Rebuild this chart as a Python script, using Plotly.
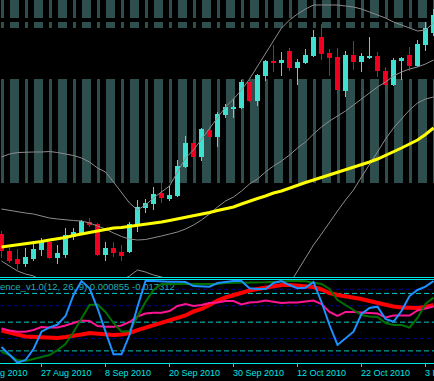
import plotly.graph_objects as go

# ---------------- data (daily EURUSD-like candles, 20 Aug 2010 .. 4 Nov 2010) ----------------
idx = list(range(55))

open_ = [1.3130, 1.3045, 1.3005, 1.2980, 1.3005, 1.3050, 1.3090, 1.3010, 1.3025, 1.3115,
         1.3135, 1.3190, 1.3180, 1.3025, 1.3060, 1.3040, 1.3040, 1.3175, 1.3260, 1.3280,
         1.3335, 1.3305, 1.3320, 1.3465, 1.3585, 1.3515, 1.3650, 1.3615, 1.3725, 1.3755,
         1.3760, 1.3890, 1.3795, 1.3920, 1.3995, 1.3985, 1.4045, 1.3960, 1.3985, 1.4020,
         1.4115, 1.4035, 1.4015, 1.3845, 1.4025, 1.3990, 1.4010, 1.4020, 1.3945, 1.3875,
         1.3995, 1.4025, 1.3970, 1.4075, 1.4135]
high = [1.3145, 1.3060, 1.3055, 1.3060, 1.3090, 1.3110, 1.3095, 1.3075, 1.3160, 1.3160,
        1.3200, 1.3210, 1.3185, 1.3090, 1.3090, 1.3075, 1.3190, 1.3300, 1.3305, 1.3365,
        1.3400, 1.3370, 1.3500, 1.3620, 1.3600, 1.3660, 1.3670, 1.3740, 1.3780, 1.3805,
        1.3900, 1.3900, 1.3930, 1.4000, 1.4075, 1.4040, 1.4060, 1.4005, 1.4055, 1.4150,
        1.4180, 1.4055, 1.4060, 1.4045, 1.4095, 1.4035, 1.4115, 1.4040, 1.3965, 1.4010,
        1.4015, 1.4065, 1.4100, 1.4190, 1.4255]
low = [1.3010, 1.2985, 1.2950, 1.2965, 1.2995, 1.3020, 1.3005, 1.2980, 1.3010, 1.3100,
       1.3125, 1.3165, 1.3020, 1.2995, 1.3015, 1.2995, 1.3035, 1.3140, 1.3235, 1.3250,
       1.3285, 1.3295, 1.3315, 1.3460, 1.3510, 1.3495, 1.3600, 1.3565, 1.3710, 1.3710,
       1.3755, 1.3790, 1.3770, 1.3895, 1.3940, 1.3920, 1.3945, 1.3875, 1.3980, 1.4015,
       1.4000, 1.3920, 1.3825, 1.3815, 1.3950, 1.3940, 1.4005, 1.3915, 1.3840, 1.3870,
       1.3900, 1.3945, 1.3965, 1.4045, 1.4120]
close = [1.3045, 1.2995, 1.2980, 1.3015, 1.3055, 1.3090, 1.3010, 1.3035, 1.3125, 1.3140,
         1.3195, 1.3175, 1.3025, 1.3060, 1.3035, 1.3020, 1.3180, 1.3265, 1.3285, 1.3330,
         1.3310, 1.3325, 1.3470, 1.3585, 1.3515, 1.3655, 1.3615, 1.3730, 1.3765, 1.3765,
         1.3890, 1.3795, 1.3925, 1.3995, 1.3985, 1.4000, 1.3960, 1.3990, 1.4025, 1.4115,
         1.4030, 1.4010, 1.3850, 1.4025, 1.3990, 1.4020, 1.4020, 1.3945, 1.3875, 1.4000,
         1.4010, 1.3970, 1.4080, 1.4160, 1.4225]

bb_upper = [1.3515, 1.3530, 1.35375, 1.3540, 1.3540, 1.3540, 1.35425, 1.35375, 1.3530, 1.35225,
            1.3510, 1.3490, 1.3460, 1.3440, 1.3390, 1.3335, 1.3285, 1.3250, 1.3275, 1.3310,
            1.3340, 1.3370, 1.3440, 1.3510, 1.3550, 1.3605, 1.3660, 1.3715, 1.3765, 1.3805,
            1.3850, 1.3905, 1.3970, 1.4035, 1.4100, 1.4160, 1.4200, 1.4230, 1.4255, 1.4275,
            1.4275, 1.4275, 1.4275, 1.4270, 1.4265, 1.4255, 1.4240, 1.4225, 1.4210, 1.4190,
            1.4175, 1.4160, 1.4145, 1.4150, 1.4185]
bb_middle = [1.3255, 1.32475, 1.3240, 1.3235, 1.3230, 1.3220, 1.3210, 1.3205, 1.3200, 1.31975,
             1.3195, 1.3185, 1.3170, 1.3155, 1.3135, 1.31175, 1.3105, 1.3100, 1.31025, 1.3110,
             1.3120, 1.3130, 1.3140, 1.3155, 1.3175, 1.3200, 1.3230, 1.3265, 1.3295, 1.3315,
             1.3345, 1.3380, 1.3405, 1.3440, 1.3470, 1.3495, 1.3525, 1.3560, 1.3590, 1.3630,
             1.3665, 1.3695, 1.3720, 1.3745, 1.3775, 1.3805, 1.3835, 1.3865, 1.3890, 1.3920,
             1.3940, 1.3955, 1.3965, 1.3980, 1.4000]
bb_lower = [1.2995, 1.2970, 1.2945, 1.2930, 1.2920, 1.2900, 1.28775, 1.28725, 1.2870, 1.28725,
            1.2880, 1.2880, 1.2880, 1.2870, 1.2880, 1.2900, 1.2920, 1.2950, 1.2940, 1.2925,
            1.2915, 1.2900, 1.2840, 1.2800, 1.2780, 1.2780, 1.2780, 1.2810, 1.2825, 1.2825,
            1.2840, 1.2860, 1.2840, 1.2840, 1.2835, 1.2830, 1.2880, 1.2945, 1.3010, 1.3075,
            1.3130, 1.3190, 1.3245, 1.3300, 1.3350, 1.3415, 1.3475, 1.3540, 1.3605, 1.3660,
            1.3705, 1.3750, 1.3785, 1.3805, 1.3815]
ma = [1.3065, 1.3070, 1.3075, 1.3080, 1.3085, 1.30925, 1.3100, 1.3105, 1.31125, 1.31225,
      1.3130, 1.31375, 1.31475, 1.31525, 1.3160, 1.31625, 1.31675, 1.31725, 1.3180, 1.3185,
      1.3190, 1.31975, 1.3205, 1.32125, 1.3220, 1.32275, 1.32375, 1.32475, 1.3255, 1.3265,
      1.3280, 1.3295, 1.33075, 1.3320, 1.3335, 1.3345, 1.3360, 1.3375, 1.33875, 1.3400,
      1.34125, 1.3425, 1.34375, 1.34525, 1.3465, 1.3475, 1.3490, 1.3505, 1.35225, 1.3540,
      1.3560, 1.3580, 1.3600, 1.36275, 1.3660]

# background shading columns (positions in candle units) and their price bands
narrow_x = [0.125, 3.125, 6.125, 9.125, 12.125, 15.125, 18.125, 21.125, 24.125, 27.125,
            30.125, 33.125, 36.125, 39.125, 42.125, 45.125, 48.125, 51.125, 54.125]
wide_x = [1.625, 4.625, 7.625, 10.625, 13.625, 16.625, 19.625, 22.625, 25.625, 28.625,
          31.625, 34.625, 37.625, 40.625, 43.625, 46.625, 49.625, 52.625]
band_bottom = [1.4210, 1.4160, 1.3385]
band_top = [1.4300, 1.4190, 1.3905]

# oscillator pane (0..100)
osc_blue = [19.7, 10.0, 0.6, 3.9, 17.3, 38.4, 43.7, 46.9, 57.5, 83.1,
            100, 91.2, 66.9, 38.4, 10.8, 10.8, 34.3, 68.8, 100, 100,
            99.3, 99.3, 99.3, 98.9, 94.0, 93.2, 93.2, 97.7, 99.3, 100,
            100, 91.2, 90.4, 90.4, 97.7, 100, 95.2, 91.2, 92.0, 98.9,
            74.5, 46.5, 22.2, 30.7, 38.4, 59.9, 67.2, 68.8, 53.8, 50.5,
            63.6, 81.8, 89.2, 93.2, 100]
osc_green = [13.6, 10.0, 3.9, 2.7, 5.1, 7.6, 10.0, 16.1, 23.4, 38.0,
             55.1, 70.9, 71.5, 62.4, 49.0, 38.4, 39.2, 57.5, 74.5, 89.2,
             96.5, 96.8, 96.8, 97.1, 97.3, 97.3, 96.8, 96.5, 97.7, 97.7,
             97.7, 98.0, 98.3, 98.5, 98.9, 99.8, 100, 100, 99.8, 98.0,
             96.5, 90.4, 77.0, 70.9, 64.8, 58.7, 56.9, 56.3, 49.0, 46.5,
             46.5, 43.5, 55.1, 72.1, 80.0]
osc_red = [39.8, 36.8, 35.0, 32.5, 31.9, 31.3, 30.7, 30.7, 31.9, 33.1,
           35.0, 36.8, 35.6, 34.3, 34.3, 35.0, 36.8, 40.4, 43.5, 46.5,
           49.6, 52.6, 55.1, 58.1, 63.0, 66.0, 70.9, 76.4, 80.0, 83.1,
           86.1, 88.5, 90.4, 92.2, 94.0, 95.2, 95.2, 94.6, 94.0, 92.8,
           89.8, 85.5, 83.1, 81.8, 80.0, 78.2, 75.8, 73.3, 70.9, 69.1,
           67.8, 67.2, 67.2, 68.5, 70.9]
osc_pink = [42.3, 39.8, 38.4, 38.4, 40.4, 44.1, 43.5, 43.5, 45.9, 49.0,
            52.0, 51.4, 45.3, 44.5, 44.5, 45.9, 50.2, 56.9, 60.5, 61.5,
            61.5, 63.6, 69.7, 72.1, 69.7, 70.9, 73.3, 73.9, 75.8, 75.8,
            71.5, 73.9, 74.5, 76.4, 75.2, 73.3, 73.9, 73.9, 75.2, 76.4,
            72.1, 62.4, 57.5, 62.4, 62.4, 61.5, 61.1, 60.5, 55.7, 58.1,
            58.1, 58.1, 64.2, 66.6, 69.1]
levels_cyan = [85, 50, 15]
levels_navy = [90, 70, 30, 10]

tick_pos = [-3, 5, 13, 21, 29, 37, 45, 53]
tick_text = ["17 Aug 2010", "27 Aug 2010", "8 Sep 2010", "20 Sep 2010",
             "30 Sep 2010", "12 Oct 2010", "22 Oct 2010", "3 Nov 2010"]
indicator_label = "ence_v1.0(12, 26, 9) 0.000855 -0.017312"

# ---------------- styles ----------------
BULL = "#40E0D0"
BEAR = "#F0001E"
SHADE = "#2F4F4F"
CYAN = "#00E5E5"
FONT = "Liberation Sans"
XRANGE = [-0.1875, 54.0625]
H = 381.0

fig = go.Figure()

# background columns
for b0, b1 in zip(band_bottom, band_top):
    for xs, w in ((narrow_x, 0.375), (wide_x, 1.125)):
        fig.add_trace(go.Bar(x=xs, y=[b1 - b0] * len(xs), base=[b0] * len(xs), width=w,
                             marker=dict(color=SHADE, line=dict(width=0)),
                             hoverinfo="skip", xaxis="x", yaxis="y"))

# Bollinger bands
for series in (bb_upper, bb_middle, bb_lower):
    fig.add_trace(go.Scatter(x=idx, y=series, mode="lines",
                             line=dict(color="#8C8C8C", width=1), hoverinfo="skip",
                             xaxis="x", yaxis="y"))

# candles
colors = [BULL if c >= o else BEAR for o, c in zip(open_, close)]
fig.add_trace(go.Bar(x=idx, base=low, y=[h - l for h, l in zip(high, low)], width=0.125,
                     marker=dict(color=colors, line=dict(width=0)), hoverinfo="skip",
                     xaxis="x", yaxis="y"))
fig.add_trace(go.Bar(x=idx, base=[min(o, c) for o, c in zip(open_, close)],
                     y=[abs(c - o) for o, c in zip(open_, close)], width=0.625,
                     marker=dict(color=colors, line=dict(width=0)), hoverinfo="skip",
                     xaxis="x", yaxis="y"))

# moving average
fig.add_trace(go.Scatter(x=idx, y=ma, mode="lines", line=dict(color="#FFFF00", width=3),
                         hoverinfo="skip", xaxis="x", yaxis="y"))

# indicator caption (under the oscillator lines, as in the original)
fig.add_trace(go.Scatter(x=[XRANGE[0]], y=[91.5], mode="text", text=[indicator_label],
                         textposition="middle right", cliponaxis=False,
                         textfont=dict(family=FONT, size=9.5, color="#20B2AA"),
                         hoverinfo="skip", xaxis="x", yaxis="y2"))

# oscillator pane
for series, col, w in ((osc_red, "#FF0000", 4), (osc_pink, "#FF1493", 2),
                       (osc_green, "#007000", 2), (osc_blue, "#1E90FF", 2)):
    fig.add_trace(go.Scatter(x=idx, y=series, mode="lines", line=dict(color=col, width=w),
                             hoverinfo="skip", xaxis="x", yaxis="y2"))

# date labels: left-aligned at their tick, placed through the x-axis mapping
annotations = []
for tp, tt in zip(tick_pos, tick_text):
    xp = (tp - XRANGE[0]) / (XRANGE[1] - XRANGE[0])
    annotations.append(dict(text=tt, xref="paper", yref="paper", x=xp, y=(H - 373) / H,
                            xanchor="left", yanchor="middle", showarrow=False, xshift=-3,
                            font=dict(family=FONT, size=9, color=CYAN)))

shapes = []
for lv in levels_navy:
    shapes.append(dict(type="line", xref="paper", x0=0, x1=1, yref="y2", y0=lv, y1=lv,
                       line=dict(color="#000090", width=1, dash="4px,3px"), layer="below"))
for lv in levels_cyan:
    shapes.append(dict(type="line", xref="paper", x0=0, x1=1, yref="y2", y0=lv, y1=lv,
                       line=dict(color="#00C8C8", width=1, dash="5px,3px"), layer="below"))
for ypx in (277.5, 279.5, 363.5):
    shapes.append(dict(type="line", xref="paper", x0=0, x1=1, yref="paper",
                       y0=(H - ypx) / H, y1=(H - ypx) / H,
                       line=dict(color=CYAN, width=1), layer="above"))

fig.update_layout(
    width=434, height=381, margin=dict(l=0, r=0, t=0, b=0),
    paper_bgcolor="black", plot_bgcolor="black", showlegend=False,
    barmode="overlay", bargap=0,
    xaxis=dict(domain=[0, 1], range=XRANGE, anchor="y2",
               showgrid=False, zeroline=False, showline=False,
               ticks="outside", ticklen=3, tickcolor=CYAN, tickwidth=1,
               tickvals=tick_pos[1:], showticklabels=False, fixedrange=True),
    yaxis=dict(domain=[104 / H, 1], range=[1.2915, 1.4300], visible=False),
    yaxis2=dict(domain=[18 / H, 101.5 / H], range=[0.24, 101.95], visible=False),
    shapes=shapes,
    annotations=annotations,
)

fig.write_html("out.html", config={"displayModeBar": False},
               post_script="document.body.style.margin='0';document.body.style.background='black';")
